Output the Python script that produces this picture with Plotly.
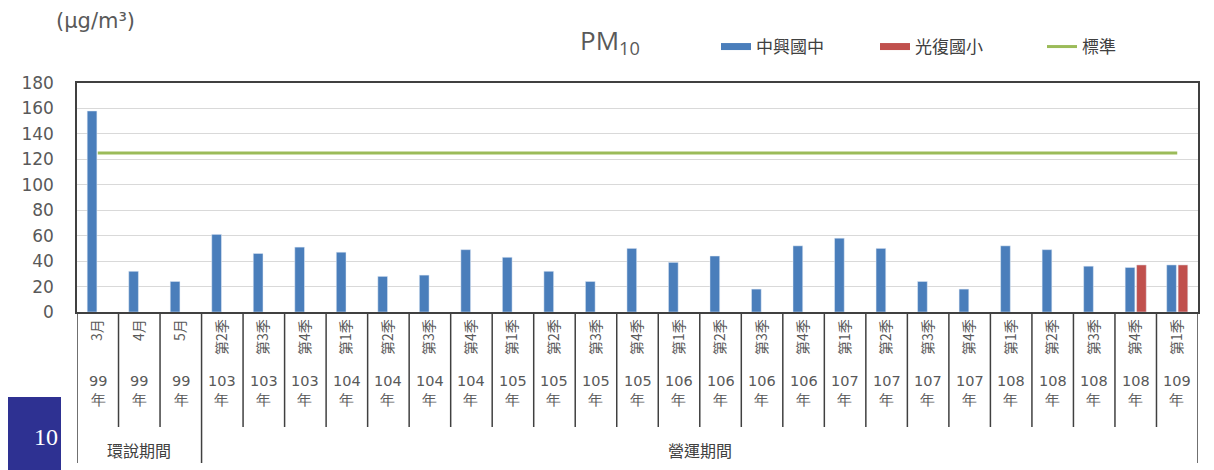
import plotly.graph_objects as go

years = ["99", "99", "99", "103", "103", "103", "104", "104", "104", "104",
         "105", "105", "105", "105", "106", "106", "106", "106",
         "107", "107", "107", "107", "108", "108", "108", "108", "109"]
periods = ["3月", "4月", "5月", "第2季", "第3季", "第4季", "第1季", "第2季", "第3季", "第4季",
           "第1季", "第2季", "第3季", "第4季", "第1季", "第2季", "第3季", "第4季",
           "第1季", "第2季", "第3季", "第4季", "第1季", "第2季", "第3季", "第4季", "第1季"]
zhongxing = [158, 32, 24, 61, 46, 51, 47, 28, 29, 49, 43, 32, 24, 50, 39, 44, 18, 52,
             58, 50, 24, 18, 52, 49, 36, 35, 37]
guangfu = [None, None, None, None, None, None, None, None, None, None, None, None, None, None,
           None, None, None, None, None, None, None, None, None, None, None, 37, 37]
standard = [125, 125, 125, 125, 125, 125, 125, 125, 125, 125, 125, 125, 125, 125,
            125, 125, 125, 125, 125, 125, 125, 125, 125, 125, 125, 125, 125]
phase_names = ["環說期間", "營運期間"]
phase_counts = [3, 24]

cats = [y + "年" + p for y, p in zip(years, periods)]

BLUE = "#4A7EBB"
RED = "#C0504D"
GREEN = "#9BBB59"
GREY = "#595959"
CJK = "Noto Sans CJK TC"
NUM = "DejaVu Sans"

fig = go.Figure()
fig.add_trace(go.Bar(x=cats, y=zhongxing, name="中興國中", marker_color=BLUE,
                     showlegend=False))
fig.add_trace(go.Bar(x=cats, y=guangfu, name="光復國小", marker_color=RED,
                     showlegend=False))
fig.add_trace(go.Scatter(x=cats, y=standard, name="標準", mode="lines",
                         line=dict(color=GREEN, width=3), showlegend=False))
# legend entries (wide swatches like the original), each in its own legend box
fig.add_trace(go.Scatter(x=[None], y=[None], name="中興國中", mode="lines",
                         line=dict(color=BLUE, width=7), legend="legend"))
fig.add_trace(go.Scatter(x=[None], y=[None], name="光復國小", mode="lines",
                         line=dict(color=RED, width=7), legend="legend2"))
fig.add_trace(go.Scatter(x=[None], y=[None], name="標準", mode="lines",
                         line=dict(color=GREEN, width=3), legend="legend3"))

OFF = 8  # page body margin
W, H = 1214 - OFF, 470 - OFF
L, R, T = 77 - OFF, 16, 83 - OFF
B = H - (312 - OFF)
pw, ph = W - L - R, H - T - B


def py(pix):
    return (H - B - (pix - OFF)) / ph


def px(pix):
    return ((pix - OFF) - L) / pw


shapes = []
n = len(cats)
for i in range(n + 1):
    b = i - 0.5
    long_line = i in (0, n, phase_counts[0])
    shapes.append(dict(type="line", xref="x", yref="paper", x0=b, x1=b,
                       y0=0, y1=py(463) if long_line else py(427),
                       line=dict(color="#404040", width=1.5)))
shapes.append(dict(type="rect", xref="paper", yref="paper", x0=px(OFF), x1=px(61),
                   y0=py(470), y1=py(397), fillcolor="#2E3192", line=dict(width=0),
                   layer="above"))

annotations = []
for i, y in enumerate(years):
    annotations.append(dict(x=i, y=py(390), xref="x", yref="paper", text=y + "<br>年",
                            showarrow=False, font=dict(family=NUM, size=14.5, color=GREY),
                            yanchor="middle"))
start = 0
for name, cnt in zip(phase_names, phase_counts):
    annotations.append(dict(x=start + (cnt - 1) / 2, y=py(450), xref="x", yref="paper",
                            text=name, showarrow=False,
                            font=dict(family=CJK, size=16, color="#404040"), yanchor="middle"))
    start += cnt
annotations.append(dict(x=px(610), y=py(41), xref="paper", yref="paper",
                        text="PM<sub>10</sub>", showarrow=False,
                        font=dict(family="Open Sans", size=26, color=GREY), yanchor="middle"))
annotations.append(dict(x=px(54), y=py(21), xref="paper", yref="paper", xanchor="left",
                        text="(μg/m³)", showarrow=False,
                        font=dict(family=NUM, size=21, color=GREY), yanchor="middle"))
annotations.append(dict(x=px(32), y=py(437), xref="paper", yref="paper",
                        text="10", showarrow=False,
                        font=dict(family="Liberation Serif", size=24, color="white"),
                        yanchor="middle"))


def leg(xpix):
    return dict(orientation="h", x=px(xpix), y=py(47), xanchor="left", yanchor="middle",
                font=dict(family=CJK, size=17, color="#404040"),
                bgcolor="rgba(0,0,0,0)")


fig.update_layout(
    width=W, height=H,
    margin=dict(l=L, r=R, t=T, b=B),
    paper_bgcolor="white", plot_bgcolor="white",
    barmode="group", bargap=0.45, bargroupgap=0.15,
    shapes=shapes, annotations=annotations,
    legend=leg(716), legend2=leg(875), legend3=leg(1042),
    xaxis=dict(type="category", tickmode="array", tickvals=cats, ticktext=periods,
               tickangle=-90, tickfont=dict(family=CJK, size=14, color=GREY),
               showline=True, linecolor="#404040", linewidth=1.5, mirror=True,
               ticks="", showgrid=False, range=[-0.5, n - 0.5]),
    yaxis=dict(range=[0, 180], dtick=20, tickfont=dict(family=NUM, size=17, color=GREY),
               showline=True, linecolor="#404040", linewidth=1.5, mirror=True,
               gridcolor="#D9D9D9", gridwidth=1, zeroline=False, ticks="",
               ticklabelstandoff=18),
)

fig.write_html("out.html")
